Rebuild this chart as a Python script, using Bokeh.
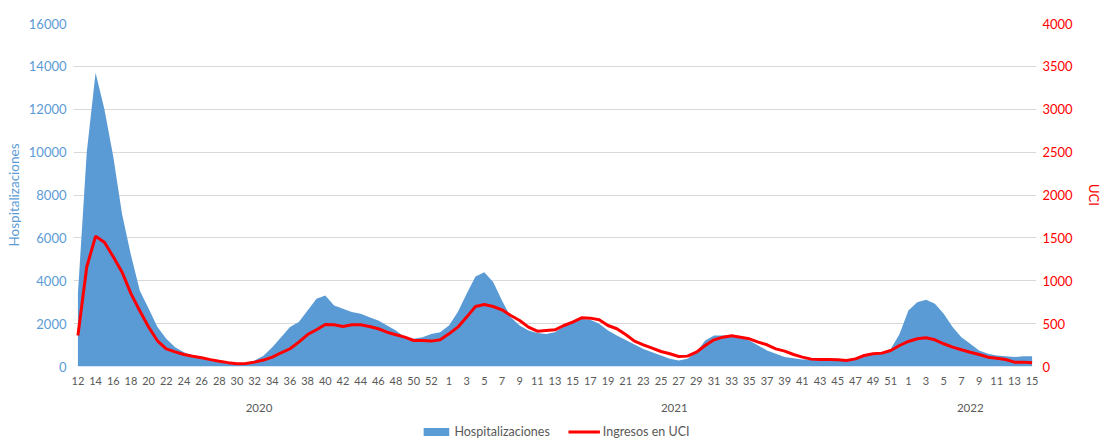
from bokeh.plotting import figure
from bokeh.layouts import column
from bokeh.models import (LinearAxis, Range1d, FixedTicker, Legend, LegendItem,
                          ColumnDataSource)
from bokeh.embed import file_html
from bokeh.resources import INLINE

# ---- data (weekly, from 2020 week 12 to 2022 week 15) ----
weeks_2020 = list(range(12, 54))
weeks_2021 = list(range(1, 53))
weeks_2022 = list(range(1, 16))
years = ["2020", "2021", "2022"]

hospitalizaciones = [
    3400, 10000, 13700, 12000, 9800, 7100, 5200, 3550, 2700, 1840,
    1290, 900, 670, 500, 360, 280, 200, 150, 125, 160,
    280, 500, 900, 1370, 1840, 2070, 2610, 3160, 3310, 2850,
    2690, 2540, 2460, 2300, 2150, 1910, 1680, 1370, 1290, 1370,
    1520, 1600, 1910, 2540, 3390, 4200, 4400, 3940, 3080, 2300,
    1910, 1680, 1560, 1520, 1600, 1870, 2070, 2220, 2180, 1990,
    1680, 1450, 1240, 1030, 820, 670, 510, 360, 280, 360,
    670, 1210, 1450, 1450, 1450, 1370, 1210, 980, 750, 590,
    440, 390, 330, 330, 330, 330, 310, 280, 360, 510,
    590, 670, 820, 1520, 2610, 3000, 3110, 2930, 2460, 1840,
    1370, 1060, 750, 590, 510, 480, 440, 480, 480,
]

ingresos_uci = [
    362, 1160, 1520, 1450, 1280, 1100, 850, 650, 460, 300,
    205, 170, 140, 120, 101, 80, 62, 45, 31, 35,
    51, 75, 109, 160, 207, 284, 373, 428, 490, 486,
    467, 486, 486, 467, 440, 400, 370, 342, 303, 303,
    296, 311, 381, 459, 576, 700, 723, 700, 661, 595,
    537, 459, 412, 420, 428, 478, 517, 568, 564, 545,
    478, 440, 373, 296, 253, 214, 175, 148, 117, 121,
    167, 245, 311, 342, 358, 342, 323, 284, 253, 206,
    179, 140, 109, 86, 82, 82, 78, 70, 89, 128,
    148, 156, 187, 245, 292, 323, 335, 311, 265, 226,
    195, 167, 140, 109, 97, 82, 51, 51, 43,
]

week_labels = weeks_2020 + weeks_2021 + weeks_2022
n = len(week_labels)
xs = [i + 0.5 for i in range(n)]

src = ColumnDataSource(dict(x=xs, hosp=hospitalizaciones, uci=ingresos_uci))

BLUE = "#5B9BD5"
RED = "#FF0000"
GRAY = "#595959"
FONT = "Lato"

p = figure(width=1104, height=422, output_backend="svg", toolbar_location=None,
           x_range=Range1d(0, n), y_range=Range1d(0, 16000),
           min_border_left=73, min_border_right=64, min_border_top=23,
           min_border_bottom=56)
p.outline_line_color = None
p.extra_y_ranges = {"uci": Range1d(0, 4000)}

area = p.varea(x="x", y1=0, y2="hosp", source=src, fill_color=BLUE)
line = p.line(x="x", y="uci", source=src, y_range_name="uci",
              line_color=RED, line_width=3)

# grid
p.xgrid.visible = False
p.ygrid.grid_line_color = "#D9D9D9"
p.ygrid.grid_line_width = 1


def plain(ax):
    ax.axis_line_color = None
    ax.major_tick_line_color = None
    ax.minor_tick_line_color = None
    ax.major_tick_out = 0
    ax.major_tick_in = 0
    ax.minor_tick_out = 0
    ax.minor_tick_in = 0


# left axis
la = p.yaxis[0]
la.ticker = FixedTicker(ticks=list(range(0, 16001, 2000)))
la.axis_label = "Hospitalizaciones"
la.axis_label_text_color = BLUE
la.axis_label_text_font = FONT
la.axis_label_text_font_style = "normal"
la.axis_label_text_font_size = "13.5px"
la.major_label_text_color = BLUE
la.major_label_text_font = FONT
la.major_label_text_font_size = "13px"
plain(la)
la.major_label_standoff = 7
la.axis_label_standoff = 4

# right axis
ra = LinearAxis(y_range_name="uci", ticker=FixedTicker(ticks=list(range(0, 4001, 500))))
ra.axis_label = "UCI"
ra.axis_label_text_color = RED
ra.axis_label_text_font = FONT
ra.axis_label_text_font_style = "normal"
ra.axis_label_text_font_size = "13px"
ra.major_label_text_color = RED
ra.major_label_text_font = FONT
ra.major_label_text_font_size = "13px"
plain(ra)
ra.major_label_standoff = 6
ra.axis_label_standoff = 10
p.add_layout(ra, "right")

# bottom week axis
xa = p.xaxis[0]
tick_pos = [xs[i] for i in range(0, n, 2)]
xa.ticker = FixedTicker(ticks=tick_pos)
xa.major_label_overrides = {xs[i]: str(week_labels[i]) for i in range(0, n, 2)}
xa.major_label_text_color = GRAY
xa.major_label_text_font = FONT
xa.major_label_text_font_size = "11px"
plain(xa)
xa.major_label_standoff = 10

# year axis
n20, n21, n22 = len(weeks_2020), len(weeks_2021), len(weeks_2022)
year_pos = [n20 / 2, n20 + n21 / 2, n20 + n21 + n22 / 2]
ya = LinearAxis(ticker=FixedTicker(ticks=year_pos))
ya.major_label_overrides = {year_pos[i]: years[i] for i in range(3)}
ya.major_label_text_color = GRAY
ya.major_label_text_font = FONT
ya.major_label_text_font_size = "11.5px"
plain(ya)
ya.major_label_standoff = 16
p.add_layout(ya, "below")

# legend in a thin strip below the chart (renderers drawn out of view)
lg = figure(width=1104, height=18, output_backend="svg", toolbar_location=None,
            x_range=Range1d(0, 1), y_range=Range1d(-2, -1),
            min_border=0, x_axis_location=None, y_axis_location=None)
lg.outline_line_color = None
lg.xgrid.visible = False
lg.ygrid.visible = False
la_r = lg.varea(x="x", y1=0, y2="hosp", source=src, fill_color=BLUE)
ll_r = lg.line(x="x", y="uci", source=src, line_color=RED, line_width=3)
legend = Legend(items=[LegendItem(label="Hospitalizaciones", renderers=[la_r]),
                       LegendItem(label="Ingresos en UCI", renderers=[ll_r])],
                orientation="horizontal", location="center",
                label_text_font=FONT, label_text_font_size="12.5px",
                label_text_color=GRAY, glyph_width=32, glyph_height=10,
                spacing=18, padding=1, margin=0, border_line_color=None,
                background_fill_alpha=0, label_standoff=3, label_height=14)
lg.add_layout(legend, "center")

page = column(p, lg, spacing=0)
open("out.html", "w").write(file_html(page, INLINE))
